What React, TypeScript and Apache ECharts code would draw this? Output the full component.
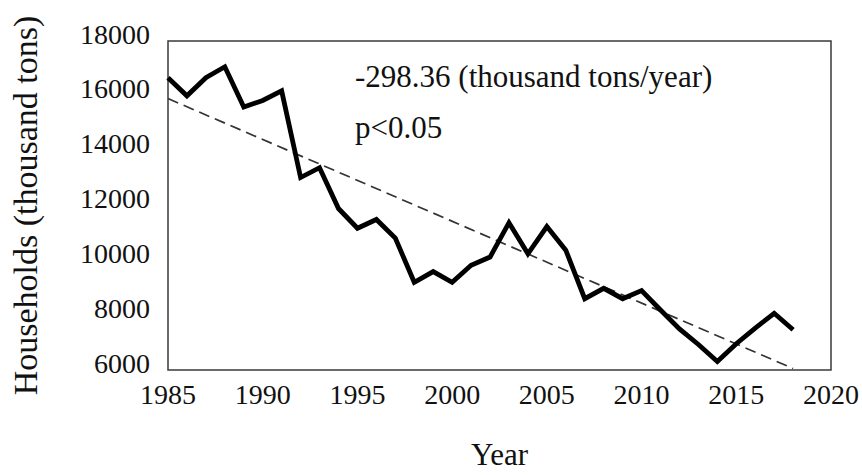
import React, { useEffect, useRef } from "react";
import * as echarts from "echarts";

const years = [1985, 1986, 1987, 1988, 1989, 1990, 1991, 1992, 1993, 1994, 1995, 1996, 1997, 1998, 1999, 2000, 2001, 2002, 2003, 2004, 2005, 2006, 2007, 2008, 2009, 2010, 2011, 2012, 2013, 2014, 2015, 2016, 2017, 2018];
const households = [16660, 16000, 16660, 17060, 15590, 15830, 16180, 13020, 13380, 11890, 11170, 11490, 10810, 9200, 9590, 9200, 9820, 10120, 11370, 10240, 11230, 10370, 8600, 8980, 8600, 8900, 8190, 7500, 6930, 6310, 6960, 7530, 8070, 7470];
const trendYears = [1985, 2018];
const trendValues = [15900, 6054];
const yTicks = { min: 6000, max: 18000, interval: 2000 };
const xTicks = { min: 1985, max: 2020, interval: 5 };
const annotation = ["-298.36 (thousand tons/year)", "p<0.05"];

const FONT = "'Liberation Serif', 'Times New Roman', serif";

export default function App() {
  const ref = useRef<HTMLDivElement>(null);
  useEffect(() => {
    if (!ref.current) return;
    const chart = echarts.init(ref.current, null, { renderer: "svg" });
    chart.setOption({
      animation: false,
      backgroundColor: "#ffffff",
      grid: { left: 166, right: 31, top: 41, bottom: 99, show: true, borderColor: "#3a3a3a", borderWidth: 1.5, backgroundColor: "transparent" },
      xAxis: {
        type: "value",
        min: xTicks.min,
        max: xTicks.max,
        interval: xTicks.interval,
        name: "Year",
        nameLocation: "middle",
        nameGap: 69,
        nameTextStyle: { fontFamily: FONT, fontSize: 31, color: "#111" },
        axisLine: { show: false },
        axisTick: { show: false },
        splitLine: { show: false },
        axisLabel: { fontFamily: FONT, fontSize: 28, color: "#111", margin: 10, formatter: (v: number) => String(v) },
      },
      yAxis: {
        type: "value",
        min: yTicks.min,
        max: yTicks.max,
        interval: yTicks.interval,
        name: "Households (thousand tons)",
        nameLocation: "middle",
        nameGap: 126,
        nameRotate: 90,
        nameTextStyle: { fontFamily: FONT, fontSize: 34, color: "#111" },
        axisLine: { show: false },
        axisTick: { show: false },
        splitLine: { show: false },
        axisLabel: { fontFamily: FONT, fontSize: 28, color: "#111", margin: 18, verticalAlign: "bottom", lineHeight: 14, formatter: (v: number) => String(v) },
      },
      series: [
        {
          type: "line",
          data: years.map((y, i) => [y, households[i]]),
          symbol: "none",
          lineStyle: { color: "#000", width: 4.8, join: "miter" },
          z: 3,
        },
        {
          type: "line",
          data: trendYears.map((y, i) => [y, trendValues[i]]),
          symbol: "none",
          lineStyle: { color: "#333", width: 1.7, type: [11, 6] },
          z: 2,
        },
      ],
      graphic: [
        { type: "text", left: 355, top: 61, style: { text: annotation[0], fontFamily: FONT, fontSize: 31, fill: "#111" } },
        { type: "text", left: 355, top: 112, style: { text: annotation[1], fontFamily: FONT, fontSize: 31, fill: "#111" } },
      ],
    });
    return () => chart.dispose();
  }, []);
  return <div ref={ref} style={{ width: 862, height: 475, position: "absolute", left: 0, top: 0 }} />;
}
